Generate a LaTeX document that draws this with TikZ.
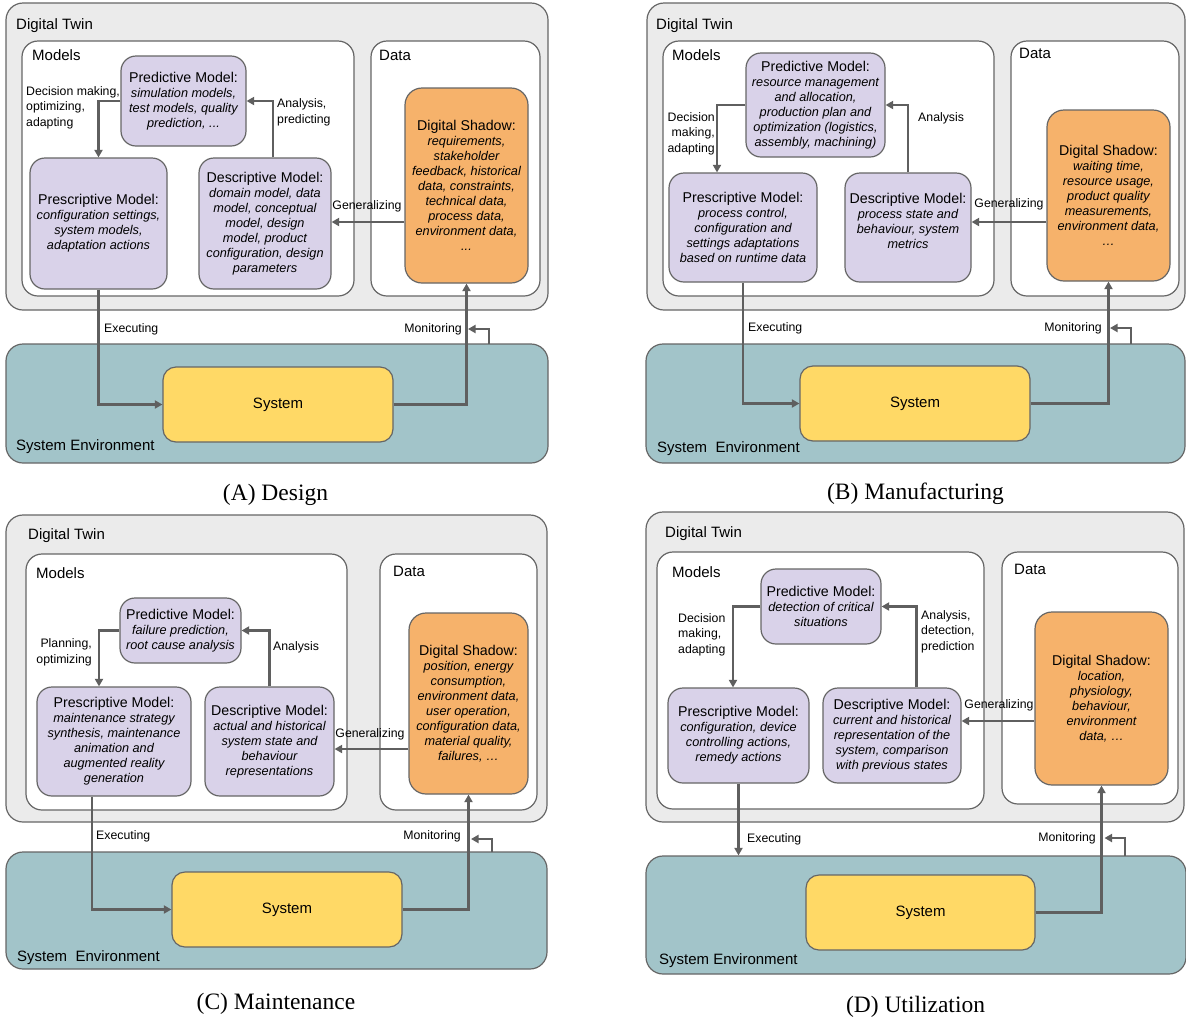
\documentclass[tikz,border=0pt]{standalone}
\usepackage{fontspec}
\setmainfont{Liberation Serif}
\setsansfont{Liberation Sans}
\usetikzlibrary{arrows.meta}

\definecolor{twinfill}{HTML}{EBEBEB}
\definecolor{edgegray}{HTML}{666666}
\definecolor{flowgray}{HTML}{5F5F5F}
\definecolor{modelfill}{HTML}{D9D2E9}
\definecolor{shadowfill}{HTML}{F6B26B}
\definecolor{envfill}{HTML}{A2C4C9}
\definecolor{sysfill}{HTML}{FFD966}

\newcommand{\titlefont}{\sffamily\fontsize{15}{18}\selectfont}
\newcommand{\itfont}{\sffamily\itshape\fontsize{12.7}{15}\selectfont}
\newcommand{\lblfont}{\sffamily\fontsize{12.3}{15.5}\selectfont}
\newcommand{\capfont}{\rmfamily\fontsize{23.5}{26}\selectfont}
\newcommand{\mhead}[1]{{\upshape\fontsize{14.2}{15}\selectfont #1}}

\begin{document}
\begin{tikzpicture}[x=1pt, y=-1pt,
  cornerbox/.style n args={4}{at={({(#1+#3)/2},{(#2+#4)/2})},
    minimum width={(#3-#1)*1pt}, minimum height={(#4-#2)*1pt}},
  plainbox/.style={draw=edgegray, line width=1.2pt, inner sep=0pt, align=center},
  twin/.style={plainbox, fill=twinfill, rounded corners=17pt},
  group/.style={plainbox, fill=white, rounded corners=16pt},
  model/.style={plainbox, fill=modelfill, rounded corners=15pt, font=\itfont},
  shadowbox/.style={plainbox, fill=shadowfill, rounded corners=17pt, font=\itfont},
  env/.style={plainbox, fill=envfill, rounded corners=17pt},
  sysbox/.style={plainbox, fill=sysfill, rounded corners=13pt, font=\titlefont},
  title/.style={anchor=west, inner sep=0pt, font=\titlefont},
  lbl/.style={inner sep=0pt, font=\lblfont},
  caption/.style={inner sep=0pt, font=\capfont},
  flow/.style={draw=flowgray, line width=2.4pt, -{Triangle[length=7.5pt,width=8pt]}}]
  \useasboundingbox (0,0) rectangle (1186,1021);

  % (A) Design
  \node[twin, cornerbox={6}{3}{548}{310}] (twinA) {};
  \node[title] (twinAtitle) at (16,26) {Digital Twin};
  \node[group, cornerbox={22}{41}{354}{296}] (modelsA) {};
  \node[title] (modelsAtitle) at (32,55) {Models};
  \node[group, cornerbox={371}{41}{540}{296}] (dataA) {};
  \node[title] (dataAtitle) at (379,55) {Data};
  \node[model, cornerbox={121}{56}{246}{146}] (predA) {\mhead{Predictive Model:}\\simulation models,\\test models, quality\\prediction, ...};
  \node[model, cornerbox={30}{158}{167}{289}] (presA) {\mhead{Prescriptive Model:}\\configuration settings,\\system models,\\adaptation actions};
  \node[model, cornerbox={199}{158}{331}{289}] (descA) {\mhead{Descriptive Model:}\\domain model, data\\model, conceptual\\model, design\\model, product\\configuration, design\\parameters};
  \node[shadowbox, cornerbox={405}{88}{528}{283}] (shadA) {\mhead{Digital Shadow:}\\requirements,\\stakeholder\\feedback, historical\\data, constraints,\\technical data,\\process data,\\environment data,\\...};
  \node[env, cornerbox={6}{344}{548}{463}] (envA) {};
  \node[title] (envAtitle) at (16,447) {System Environment};
  \node[sysbox, cornerbox={163}{367}{393}{442}] (sysA) {System};
  \coordinate (monAfoot) at (489,344);
  \coordinate (monAtip) at (468,329);

  \draw[flow] (predA.west) -| (presA.north);
  \draw[flow] ([xshift=8pt]descA.north) |- (predA.east);
  \draw[flow] ([yshift=1.5pt]descA.east -| shadA.west) -- ([yshift=1.5pt]descA.east);
  \draw[flow] (presA.south) |- (sysA.west);
  \draw[flow] (sysA.east) -| (shadA.south);
  \draw[flow] (monAfoot) |- (monAtip);

  \node[lbl, align=left, anchor=west] (decA) at (26,107.5) {Decision making,\\optimizing,\\adapting};
  \node[lbl, align=left, anchor=west] (anaA) at (277,112.5) {Analysis,\\predicting};
  \node[lbl] (genA) at (367,206) {Generalizing};
  \node[lbl, anchor=west] (exeA) at (104,329) {Executing};
  \node[lbl, anchor=east] (monlblA) at (462,329) {Monitoring};
  \node[caption] (capA) at (275.5,495) {(A) Design};

  % (B) Manufacturing
  \node[twin, cornerbox={647}{3}{1185}{310}] (twinB) {};
  \node[title] (twinBtitle) at (656,26) {Digital Twin};
  \node[group, cornerbox={663}{41}{994}{296}] (modelsB) {};
  \node[title] (modelsBtitle) at (672,55) {Models};
  \node[group, cornerbox={1011}{41}{1179}{296}] (dataB) {};
  \node[title] (dataBtitle) at (1019,53) {Data};
  \node[model, cornerbox={746}{53}{885}{157}] (predB) {\mhead{Predictive Model:}\\resource management\\and allocation,\\production plan and\\optimization (logistics,\\assembly, machining)};
  \node[model, cornerbox={669}{173}{817}{282}] (presB) {\mhead{Prescriptive Model:}\\process control,\\configuration and\\settings adaptations\\based on runtime data};
  \node[model, cornerbox={845}{173}{971}{282}] (descB) {\mhead{Descriptive Model:}\\process state and\\behaviour, system\\metrics\\[-1pt]\mbox{}};
  \node[shadowbox, cornerbox={1047}{110}{1170}{281}] (shadB) {\mhead{Digital Shadow:}\\waiting time,\\resource usage,\\product quality\\measurements,\\environment data,\\…};
  \node[env, cornerbox={646}{344}{1185}{463}] (envB) {};
  \node[title] (envBtitle) at (657,449) {System~~Environment};
  \node[sysbox, cornerbox={800}{366}{1030}{441}] (sysB) {System};
  \coordinate (monBfoot) at (1131,344);
  \coordinate (monBtip) at (1110,328);

  \draw[flow] (predB.west) -| ([xshift=-26pt]presB.north);
  \draw[flow] (descB.north) |- (predB.east);
  \draw[flow] ([yshift=5.5pt]descB.east -| shadB.west) -- ([yshift=5.5pt]descB.east);
  \draw[flow] (presB.south) |- (sysB.west);
  \draw[flow] (sysB.east) -| (shadB.south);
  \draw[flow] (monBfoot) |- (monBtip);

  \node[lbl, align=right, anchor=east] (decB) at (715,133.5) {Decision\\making,\\adapting};
  \node[lbl, anchor=west] (anaB) at (918,118) {Analysis};
  \node[lbl] (genB) at (1009,204) {Generalizing};
  \node[lbl, anchor=west] (exeB) at (748,328) {Executing};
  \node[lbl, anchor=east] (monlblB) at (1102,328) {Monitoring};
  \node[caption] (capB) at (915.5,494) {(B) Manufacturing};

  % (C) Maintenance
  \node[twin, cornerbox={6}{515}{547}{822}] (twinC) {};
  \node[title] (twinCtitle) at (28,536) {Digital Twin};
  \node[group, cornerbox={26}{554}{347}{810}] (modelsC) {};
  \node[title] (modelsCtitle) at (36,573) {Models};
  \node[group, cornerbox={380}{554}{537}{810}] (dataC) {};
  \node[title] (dataCtitle) at (393,571) {Data};
  \node[model, cornerbox={120}{598}{241}{663}] (predC) {\mhead{Predictive Model:}\\failure prediction,\\root cause analysis};
  \node[model, cornerbox={37}{687}{191}{796}] (presC) {\mhead{Prescriptive Model:}\\maintenance strategy\\synthesis, maintenance\\animation and\\augmented reality\\generation};
  \node[model, cornerbox={205}{687}{334}{796}] (descC) {\mhead{Descriptive Model:}\\actual and historical\\system state and\\behaviour\\representations};
  \node[shadowbox, cornerbox={409}{613}{528}{794}] (shadC) {\mhead{Digital Shadow:}\\position, energy\\consumption,\\environment data,\\user operation,\\configuration data,\\material quality,\\failures, …};
  \node[env, cornerbox={6}{852}{547}{969}] (envC) {};
  \node[title] (envCtitle) at (17,958) {System~~Environment};
  \node[sysbox, cornerbox={172}{872}{402}{947}] (sysC) {System};
  \coordinate (monCfoot) at (492,852);
  \coordinate (monCtip) at (471,839);

  \draw[flow] (predC.west) -| ([xshift=-15pt]presC.north);
  \draw[flow] (descC.north) |- (predC.east);
  \draw[flow] ([yshift=-7.5pt]descC.east -| shadC.west) -- ([yshift=-7.5pt]descC.east);
  \draw[flow] ([xshift=-22pt]presC.south) |- (sysC.west);
  \draw[flow] (sysC.east) -| (shadC.south);
  \draw[flow] (monCfoot) |- (monCtip);

  \node[lbl, align=right, anchor=east] (planC) at (92,652.5) {Planning,\\optimizing};
  \node[lbl, anchor=west] (anaC) at (273,647) {Analysis};
  \node[lbl] (genC) at (370,734) {Generalizing};
  \node[lbl, anchor=west] (exeC) at (96,836) {Executing};
  \node[lbl, anchor=east] (monlblC) at (461,836) {Monitoring};
  \node[caption] (capC) at (276,1004) {(C) Maintenance};

  % (D) Utilization
  \node[twin, cornerbox={646}{512}{1184}{822}] (twinD) {};
  \node[title] (twinDtitle) at (665,534) {Digital Twin};
  \node[group, cornerbox={657}{552}{984}{809}] (modelsD) {};
  \node[title] (modelsDtitle) at (672,572) {Models};
  \node[group, cornerbox={1002}{552}{1178}{804}] (dataD) {};
  \node[title] (dataDtitle) at (1014,569) {Data};
  \node[model, cornerbox={761}{569}{881}{644}] (predD) {\mhead{Predictive Model:}\\detection of critical\\situations};
  \node[model, cornerbox={668}{688}{809}{783}] (presD) {\mhead{Prescriptive Model:}\\configuration, device\\controlling actions,\\remedy actions};
  \node[model, cornerbox={823}{688}{961}{783}] (descD) {\mhead{Descriptive Model:}\\current and historical\\representation of the\\system, comparison\\with previous states};
  \node[shadowbox, cornerbox={1035}{612}{1168}{785}] (shadD) {\mhead{Digital Shadow:}\\location,\\physiology,\\behaviour,\\environment\\data, …};
  \node[env, cornerbox={646}{856}{1186}{974}] (envD) {};
  \node[title] (envDtitle) at (659,961) {System Environment};
  \node[sysbox, cornerbox={806}{875}{1035}{950}] (sysD) {System};
  \coordinate (monDfoot) at (1125,856);
  \coordinate (monDtip) at (1104.5,838);

  \draw[flow] (predD.west) -| ([xshift=-5.5pt]presD.north);
  \draw[flow] ([xshift=24.5pt]descD.north) |- (predD.east);
  \draw[flow] ([yshift=14.5pt]descD.east -| shadD.west) -- ([yshift=14.5pt]descD.east);
  \draw[flow] (presD.south) -- (presD.south |- envD.north);
  \draw[flow] (sysD.east) -| (shadD.south);
  \draw[flow] (monDfoot) |- (monDtip);

  \node[lbl, align=left, anchor=west] (decD) at (678,634.5) {Decision\\making,\\adapting};
  \node[lbl, align=left, anchor=west] (anaD) at (921,631.5) {Analysis,\\detection,\\prediction};
  \node[lbl] (genD) at (999,705) {Generalizing};
  \node[lbl, anchor=west] (exeD) at (747,839) {Executing};
  \node[lbl, anchor=east] (monlblD) at (1096,838) {Monitoring};
  \node[caption] (capD) at (915.5,1007) {(D) Utilization};
\end{tikzpicture}
\end{document}
